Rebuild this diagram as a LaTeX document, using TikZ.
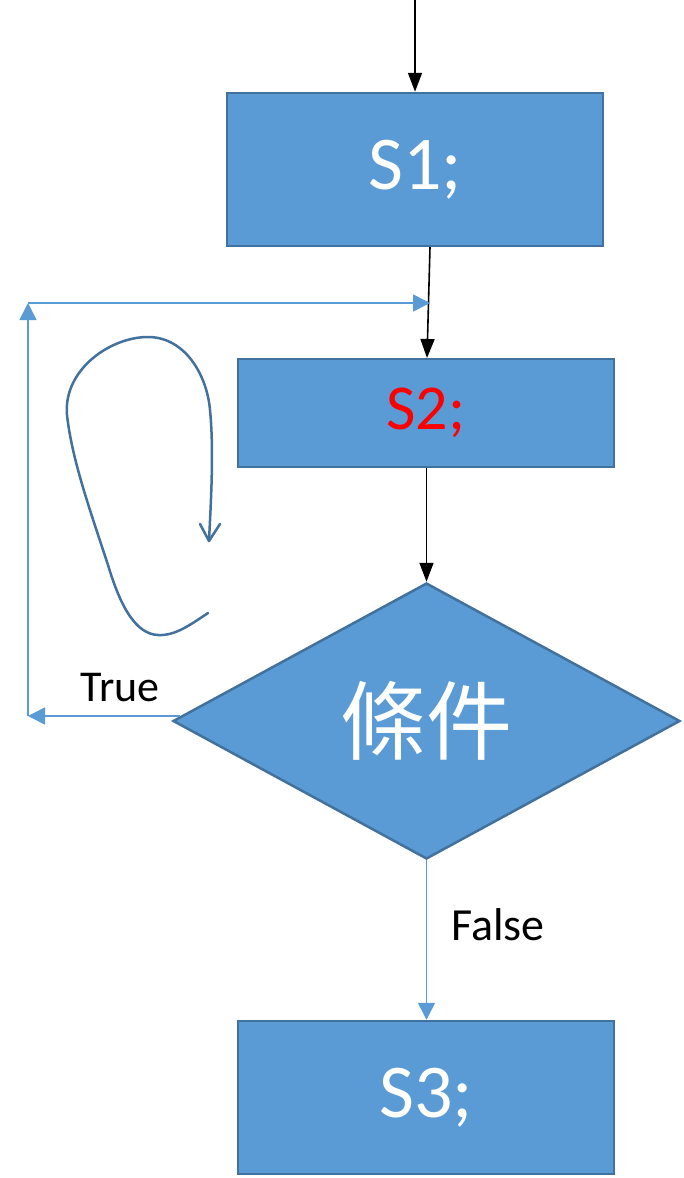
\documentclass[tikz,border=0pt]{standalone}
\usepackage{fontspec}
\setmainfont{Carlito}
\newfontfamily\cjk{Noto Sans CJK TC}
\usetikzlibrary{shapes.geometric,arrows.meta}
\definecolor{boxfill}{HTML}{5B9BD5}
\definecolor{boxedge}{HTML}{41719C}
\definecolor{linkblue}{HTML}{5B9BD5}
\tikzset{
  stepbox/.style={rectangle,draw=boxedge,line width=2.5pt,fill=boxfill,inner sep=0pt,
    minimum width=376pt,text=white},
  decision/.style={diamond,draw=boxedge,line width=2.5pt,fill=boxfill,inner sep=0pt,
    minimum width=507pt,minimum height=276pt,aspect=1.83,text=white},
  blackarrow/.style={draw=black,line width=1.6pt,-{Triangle[length=19pt,width=14pt]}},
  bluearrow/.style={draw=linkblue,line width=1.6pt,-{Triangle[length=17pt,width=17pt]}},
  lbl/.style={text=black,inner sep=0pt,font=\fontsize{44}{50}\selectfont},
}
\begin{document}
\begin{tikzpicture}[x=1pt,y=-1pt]
\useasboundingbox (0,0) rectangle (684,1178);
\fill[white] (0,0) rectangle (684,1178);

\node[stepbox,minimum height=153pt,font=\fontsize{76}{80}\selectfont] (S1) at (415,169.5) {S1;};
\node[stepbox,minimum height=108pt,font=\fontsize{64}{70}\selectfont,text=red] (S2) at (426,413) {S2;};
\node[decision,font=\cjk\fontsize{86}{90}\selectfont] (C) at (426.5,721) {條件};
\node[stepbox,minimum height=153pt,font=\fontsize{76}{80}\selectfont] (S3) at (426,1097.5) {S3;};

\coordinate (top) at (415,0);
\coordinate (s1out) at (430,247);
\coordinate (s2in) at (427,358);
\coordinate (tl) at (28,716);
\coordinate (cl) at (180,716);
\coordinate (ul) at (28,303);
\coordinate (ur) at (430,303);

\draw[blackarrow] (top) -- (S1.north -| top);
\draw[blackarrow] (s1out) -- (s2in);
\draw[blackarrow] (S2.south -| C.north) -- (C.north);
\draw[bluearrow] (C.south) -- (S3.north -| C.south);
\draw[bluearrow] (cl) -- (tl);
\draw[bluearrow] (tl) -- (ul);
\draw[bluearrow] (ul) -- (ur);

\node[lbl] (true) at (120,688) {True};
\node[lbl,font=\fontsize{46}{50}\selectfont] (false) at (498,925) {False};

% hand-drawn loop
\draw[boxedge,line width=2.5pt,line cap=round,line join=round]
  (208,613) .. controls (190,625) and (175,636) .. (158,635)
  .. controls (135,634) and (120,605) .. (108,565)
  .. controls (90,510) and (72,460) .. (67,415)
  .. controls (63,370) and (110,337) .. (148,337)
  .. controls (185,337) and (207,375) .. (210,410)
  .. controls (214,450) and (211,500) .. (209,541);
\draw[boxedge,line width=2.5pt,line cap=round,line join=round]
  (200,524) -- (209,541) -- (220,524);
\end{tikzpicture}
\end{document}
